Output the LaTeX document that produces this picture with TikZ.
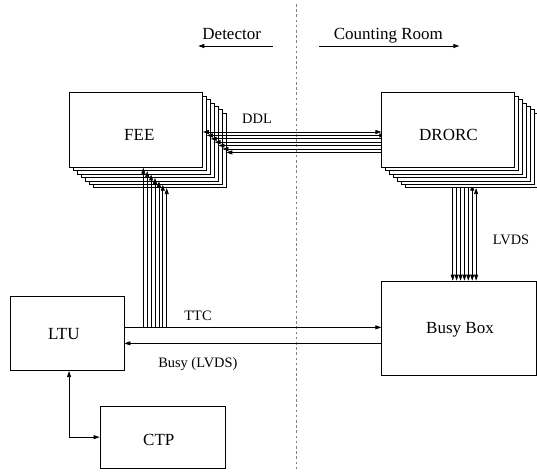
\documentclass[tikz,border=0pt]{standalone}
\usepackage{fontspec}
\setmainfont{Liberation Serif}
\usetikzlibrary{arrows.meta}
\pgfdeclarelayer{upper}
\pgfsetlayers{main,upper}
\begin{document}
\begin{tikzpicture}[x=1pt,y=-1pt,
  >={Triangle[length=6pt,width=4pt]},
  wire/.style={line width=0.7pt},
  box/.style={draw, fill=white, line width=0.7pt, inner sep=0pt},
  stackbox/.style={box, minimum width=133pt, minimum height=74.6pt},
  boxtext/.style={inner sep=0pt, text height=11.2pt, text depth=0pt, font=\fontsize{17}{20}\selectfont},
  lbl/.style={inner sep=0pt, text height=9.5pt, text depth=0pt, font=\fontsize{14.4}{17}\selectfont},
  sep/.style={draw=gray, line width=0.8pt, dash pattern=on 2.6pt off 2.6pt}]
\useasboundingbox (0,0) rectangle (537,471);

% header
\coordinate (septop) at (296,4);
\coordinate (sepbot) at (296,471);
\draw[sep] (septop) -- (sepbot);
\node[boxtext] (det) at (231.7,33.8) {Detector};
\node[boxtext] (cr) at (388.3,33.8) {Counting Room};
\coordinate (detR) at (272.7,46);
\coordinate (detL) at (198.3,46);
\coordinate (crL) at (319.3,46);
\coordinate (crR) at (459.3,46);
\draw[wire,->] (detR) -- (detL);
\draw[wire,->] (crL) -- (crR);

% FEE stack
\foreach \i in {6,5,...,0}
  \node[stackbox] (fee\i) at (136+3.9*\i,130+3.4*\i) {};
\node[boxtext] (feetxt) at (139.3,134.7) {FEE};

% DRORC stack (drawn on upper layer so that it hides the DDL ends)
\begin{pgfonlayer}{upper}
\foreach \i in {6,5,...,0}
  \node[stackbox] (dror\i) at (448.3+3.9*\i,130+3.4*\i) {};
\node[boxtext] (drortxt) at (448.5,134.7) {DRORC};
\end{pgfonlayer}

% DDL links
\foreach \i in {0,...,6}
  \draw[wire,<->] ([yshift=-2pt]fee\i.east) -- ([yshift=-2pt]dror\i.west);
\node[lbl] (ddl) at (257,119) {DDL};

% other boxes
\node[box, minimum width=113.3pt, minimum height=74.7pt] (ltu) at (67.35,333.35) {};
\node[boxtext] (ltutxt) at (63.8,333.8) {LTU};
\node[box, minimum width=154.8pt, minimum height=94pt] (busy) at (459.1,328) {};
\node[boxtext] (busytxt) at (460,328) {Busy Box};
\node[box, minimum width=125.7pt, minimum height=62.3pt] (ctp) at (162.85,437.15) {};
\node[boxtext] (ctptxt) at (158.8,439.5) {CTP};

% TTC and Busy lines
\coordinate (ttcA) at ([yshift=6pt]ltu.east);
\coordinate (busyA) at ([yshift=-10pt]ltu.east);
\draw[wire,->] (ttcA) -- (ttcA -| busy.west);
\draw[wire,->] (busyA -| busy.west) -- (busyA);
\node[lbl] (ttc) at (198,315.3) {TTC};
\node[lbl] (busylbl) at (197.8,362.3) {Busy (LVDS)};

% TTC fan-out to FEEs
\foreach \i in {0,...,6}
  \draw[wire,->] ([xshift=7.3pt]fee\i.south |- ttcA) -- ([xshift=7.3pt]fee\i.south);

% LVDS from DRORCs to Busy Box
\foreach \i in {0,...,6}
  \draw[wire,<->] ([xshift=4.4pt]dror\i.south) -- ([xshift=4.4pt]dror\i.south |- busy.north);
\node[lbl] (lvds) at (511,240) {LVDS};

% LTU - CTP
\draw[wire,<->] ([xshift=1.7pt]ltu.south) |- (ctp.west);
\end{tikzpicture}
\end{document}
